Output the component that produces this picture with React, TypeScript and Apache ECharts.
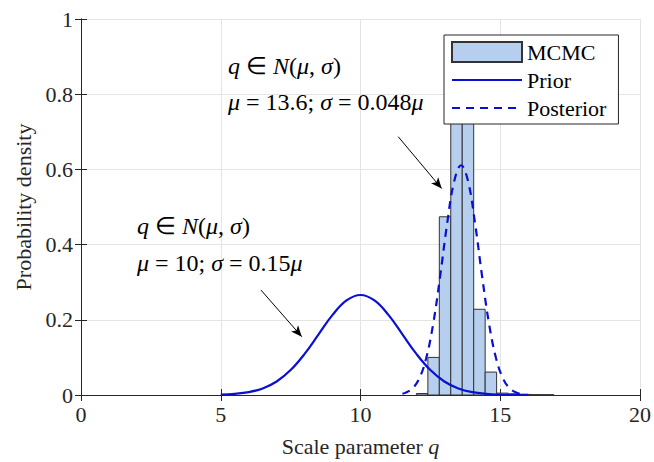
import React, { useEffect, useRef } from "react";
import * as echarts from "echarts";

// Histogram (MCMC samples): bin edges and densities
const binEdges = [12.0, 12.41, 12.82, 13.23, 13.64, 14.05, 14.46, 14.87, 15.28, 15.69, 16.1, 16.51, 16.92];
const binHeights = [0.004, 0.1, 0.474, 0.8, 0.78, 0.228, 0.061, 0.005, 0.003, 0.0015, 0.001, 0.0008];

// Prior curve points
const priorX = [5, 5.5, 6, 6.5, 7, 7.5, 8, 8.5, 9, 9.5, 10, 10.5, 11, 11.5, 12, 12.5, 13, 13.5, 14, 14.5, 15, 15.5, 16];
const priorY = [0.001, 0.003, 0.0076, 0.0175, 0.036, 0.0663, 0.1093, 0.1613, 0.213, 0.2516, 0.266, 0.2516, 0.213, 0.1613, 0.1093, 0.0663, 0.036, 0.0175, 0.0076, 0.003, 0.001, 0.0003, 0.0001];

// Posterior curve points
const postX = [11.5, 11.6, 11.85, 12.1, 12.35, 12.6, 12.85, 13.1, 13.35, 13.6, 13.85, 14.1, 14.35, 14.6, 14.85, 15.1, 15.35, 15.6, 15.7];
const postY = [0.0035, 0.0056, 0.0168, 0.0436, 0.0977, 0.189, 0.3159, 0.4558, 0.5679, 0.6111, 0.5679, 0.4558, 0.3159, 0.189, 0.0977, 0.0436, 0.0168, 0.0056, 0.0035];

// Axis ticks
const xTicks = { min: 0, max: 20, interval: 5 };
const yTicks = { min: 0, max: 1, interval: 0.2 };

// Annotation arrows (data coordinates)
const arrows = [
  { from: [11.35, 0.687], to: [12.905, 0.549] },
  { from: [6.44, 0.279], to: [7.9, 0.155] },
];

const FONT = "Liberation Serif";
const BLUE = "#0a10d0";

export default function App() {
  const ref = useRef<HTMLDivElement>(null);
  useEffect(() => {
    if (!ref.current) return;
    const chart = echarts.init(ref.current, undefined, { renderer: "svg" });
    const hist = binHeights.map((h, i) => [binEdges[i], binEdges[i + 1], h]);
    const axisCommon = {
      axisLine: { show: true, lineStyle: { color: "#262626", width: 1 } },
      axisTick: { show: true, inside: true, length: 6, lineStyle: { color: "#262626" } },
    };
    const AF = 24;
    const rich = {
      i: { fontFamily: FONT, fontStyle: "italic", fontSize: AF, fill: "#000" },
      n: { fontFamily: FONT, fontSize: AF, fill: "#000" },
    };
    const mkText = (left: number, top: number, text: string) => ({
      type: "text",
      left,
      top,
      z: 10,
      style: { text, rich, font: `${AF}px ${FONT}`, fill: "#000" },
    });
    const hiddenDot = { opacity: 0 };
    chart.setOption({
      animation: false,
      grid: { left: 81, right: 14, top: 19, bottom: 65 },
      xAxis: [
        {
          type: "value",
          ...xTicks,
          ...axisCommon,
          name: "Scale parameter {i|q}",
          nameLocation: "middle",
          nameGap: 40,
          nameTextStyle: {
            fontFamily: FONT,
            fontSize: 22,
            color: "#262626",
            rich: { i: { fontFamily: FONT, fontStyle: "italic", fontSize: 22, color: "#262626" } },
          },
          axisLabel: { fontFamily: FONT, fontSize: 22, color: "#262626", margin: 8 },
          splitLine: { show: true, lineStyle: { color: "#e4e4e4", width: 1 } },
        },
        {
          type: "value",
          position: "top",
          ...xTicks,
          ...axisCommon,
          axisLabel: { show: false },
          splitLine: { show: false },
        },
      ],
      yAxis: [
        {
          type: "value",
          ...yTicks,
          ...axisCommon,
          name: "Probability density",
          nameLocation: "middle",
          nameGap: 44,
          nameTextStyle: { fontFamily: FONT, fontSize: 22, color: "#262626" },
          axisLabel: { fontFamily: FONT, fontSize: 22, color: "#262626", margin: 8 },
          splitLine: { show: true, lineStyle: { color: "#e4e4e4", width: 1 } },
        },
        {
          type: "value",
          position: "right",
          ...yTicks,
          ...axisCommon,
          axisLabel: { show: false },
          splitLine: { show: false },
        },
      ],
      legend: {
        orient: "vertical",
        left: 444,
        top: 35,
        backgroundColor: "#fff",
        borderColor: "#262626",
        borderWidth: 1,
        borderRadius: 0,
        padding: [6, 12, 5, 7],
        itemWidth: 70,
        itemHeight: 20,
        itemGap: 6,
        textStyle: { fontFamily: FONT, fontSize: 22, color: "#000", padding: [0, 0, 0, 0] },
        z: 20,
        data: [
          { name: "MCMC", icon: "rect" },
          { name: "Prior", itemStyle: hiddenDot },
          { name: "Posterior", itemStyle: hiddenDot },
        ],
      },
      graphic: [
        mkText(228, 54, "{i|q} {n|∈} {i|N}{n|(}{i|μ}{n|,} {i|σ}{n|)}"),
        mkText(228, 90, "{i|μ} {n|= 13.6;} {i|σ} {n|= 0.048}{i|μ}"),
        mkText(137, 214, "{i|q} {n|∈} {i|N}{n|(}{i|μ}{n|,} {i|σ}{n|)}"),
        mkText(137, 251, "{i|μ} {n|= 10;} {i|σ} {n|= 0.15}{i|μ}"),
      ],
      series: [
        {
          name: "MCMC",
          type: "custom",
          data: hist,
          itemStyle: { color: "#b7cfee", borderColor: "#333", borderWidth: 1 },
          renderItem: (_params: any, api: any) => {
            const p0 = api.coord([api.value(0), api.value(2)]);
            const p1 = api.coord([api.value(1), 0]);
            return {
              type: "rect",
              shape: { x: p0[0], y: p0[1], width: p1[0] - p0[0], height: p1[1] - p0[1] },
              style: { fill: "#b7cfee", stroke: "#333", lineWidth: 1 },
            };
          },
          z: 2,
        },
        {
          name: "Prior",
          type: "line",
          data: priorX.map((x, i) => [x, priorY[i]]),
          smooth: 0.4,
          symbol: "none",
          lineStyle: { color: BLUE, width: 2.2, type: "solid" },
          itemStyle: { color: BLUE },
          z: 3,
          markLine: {
            silent: true,
            symbol: ["none", "arrow"],
            symbolSize: [7, 11],
            label: { show: false },
            lineStyle: { color: "#000", width: 1, type: "solid" },
            data: arrows.map((a) => [{ coord: a.from }, { coord: a.to }]),
          },
        },
        {
          name: "Posterior",
          type: "line",
          data: postX.map((x, i) => [x, postY[i]]),
          smooth: 0.4,
          symbol: "none",
          lineStyle: { color: BLUE, width: 2.2, type: [8, 6] },
          itemStyle: { color: BLUE },
          z: 4,
        },
      ],
    });
    return () => chart.dispose();
  }, []);
  return (
    <div
      ref={ref}
      style={{ position: "absolute", left: 0, top: 0, width: 654, height: 462 }}
    />
  );
}
